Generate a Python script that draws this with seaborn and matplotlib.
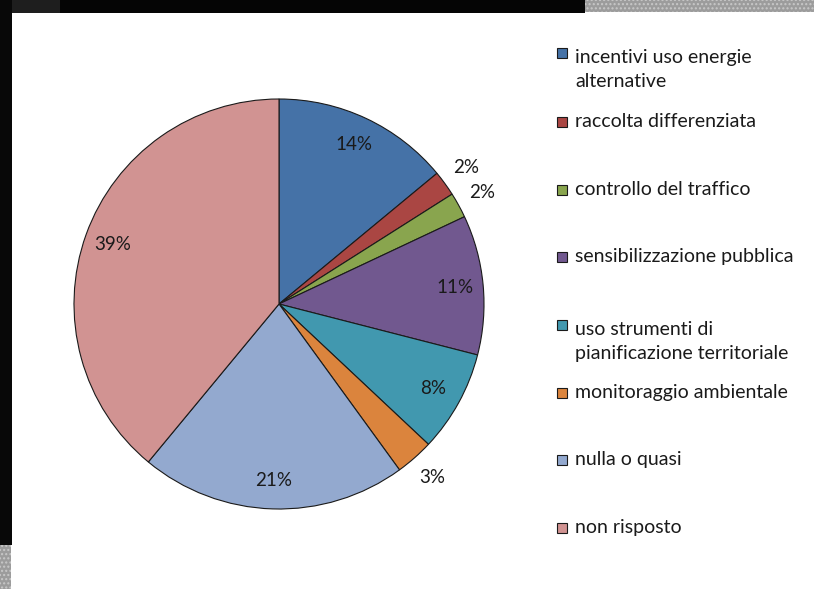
import matplotlib
matplotlib.use("Agg")
import matplotlib.pyplot as plt
from matplotlib.patches import Rectangle
import numpy as np
import seaborn as sns

# Survey answers (share of respondents, %)
categories = [
    "incentivi uso energie\nalternative",
    "raccolta differenziata",
    "controllo del traffico",
    "sensibilizzazione pubblica",
    "uso strumenti di\npianificazione territoriale",
    "monitoraggio ambientale",
    "nulla o quasi",
    "non risposto",
]
values = [14, 2, 2, 11, 8, 3, 21, 39]
colors = ["#4572A7", "#AA4643", "#89A54E", "#71588F",
          "#4198AF", "#DB843D", "#93A9CF", "#D19392"]

sns.set_theme(style="white")
plt.rcParams["font.family"] = ["Lato", "DejaVu Sans"]

W, H = 814, 589
fig = plt.figure(figsize=(W / 100, H / 100), dpi=100)
fig.patch.set_facecolor("white")

def px_rect(x0, y0, x1, y1, **kw):
    """Rectangle given in pixel coordinates measured from the top-left."""
    fig.patches.append(Rectangle((x0 / W, 1 - y1 / H), (x1 - x0) / W, (y1 - y0) / H,
                                 transform=fig.transFigure, zorder=0, **kw))

# slide frame around the chart
px_rect(0, 0, 585, 13, facecolor="#050505", edgecolor="none")
px_rect(0, 0, 60, 13, facecolor="#1e1e1e", edgecolor="none")
px_rect(585, 0, W, 12, facecolor="#9c9c9c", edgecolor="#c8c8c8", hatch="....", linewidth=0)
px_rect(0, 0, 12, 545, facecolor="#080808", edgecolor="none")
px_rect(0, 545, 11, H, facecolor="#9c9c9c", edgecolor="#c8c8c8", hatch="....", linewidth=0)

# pie area
cx, cy, r = 279, 304, 205
ax = fig.add_axes([(cx - r) / W, 1 - (cy + r) / H, 2 * r / W, 2 * r / H])
ax.axis("off")

wedges, _ = ax.pie(values, colors=colors, startangle=90, counterclock=False,
                   radius=1, center=(0, 0), frame=False,
                   wedgeprops=dict(edgecolor="#1a1a1a", linewidth=0.8))
ax.set_xlim(-1, 1)
ax.set_ylim(-1, 1)

for w, v in zip(wedges, values):
    mid = np.deg2rad((w.theta1 + w.theta2) / 2)
    dist = 0.86 if v >= 5 else 1.13
    ax.text(dist * np.cos(mid), dist * np.sin(mid), f"{v}%",
            ha="center", va="center", fontsize=13.5, color="#1a1a1a")

# legend: marker squares with their labels
leg_y = [53, 122, 190, 257, 325, 393, 460, 528]
line_gap = 25
for lab, col, y in zip(categories, colors, leg_y):
    px_rect(557, y - 5, 567, y + 5, facecolor=col, edgecolor="#1a1a1a", linewidth=0.8)
    n_lines = lab.count("\n") + 1
    # baseline of the last line of the label
    base = y + (9 if n_lines > 1 else 5) + line_gap * (n_lines - 1)
    fig.text(575 / W, 1 - base / H, lab, ha="left", va="baseline",
             fontsize=14, color="#1a1a1a", linespacing=1.52)

fig.savefig("out.png", dpi=100, facecolor=fig.get_facecolor())
